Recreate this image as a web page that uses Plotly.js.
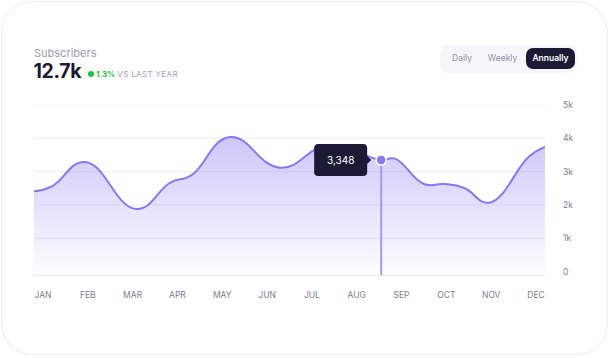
<!DOCTYPE html>
<html>
<head>
<meta charset="utf-8">
<script src="https://cdn.plot.ly/plotly-3.0.1.min.js"></script>
<style>
  html, body { margin:0; padding:0; background:#ffffff; width:611px; height:358px; overflow:hidden; font-family: Inter, "Noto Sans", sans-serif; }
  #card { position:absolute; left:1px; top:1px; width:605px; height:352px; border:1.5px solid #ececf2; border-radius:32px; background:#fff; }
  #chart { position:absolute; left:0; top:0; width:611px; height:358px; }
  .t { position:absolute; line-height:1; white-space:nowrap; }
  #seg { position:absolute; left:440px; top:45px; width:137px; height:28px; border-radius:9px; background:#f5f5fa; }
  #act { position:absolute; left:526px; top:48px; width:49px; height:21px; border-radius:7px; background:#1d1a36; }
</style>
</head>
<body>
<div id="card"></div>
<div id="seg"></div>
<div id="act"></div>
<div id="chart"></div>
<div class="t" style="left:34px; top:47.5px; font-size:11px; color:#9c9bad;">Subscribers</div>
<div class="t" style="left:33.5px; top:61.5px; font-size:19.5px; font-weight:700; color:#1c1a33; letter-spacing:-0.3px;">12.7k</div>
<div style="position:absolute; left:87.5px; top:71.3px; width:6px; height:6px; border-radius:50%; background:#1fc23a;"></div>
<div class="t" style="left:96px; top:70.2px; font-size:8px; font-weight:700; color:#1fc23a;">1.3%</div>
<div class="t" style="left:117.3px; top:70.2px; font-size:8px; color:#a3a2b3; letter-spacing:0.35px;">VS LAST YEAR</div>
<div class="t" style="left:462px; top:54.3px; font-size:8.5px; color:#8f8ea2; transform:translateX(-50%);">Daily</div>
<div class="t" style="left:502.5px; top:54.3px; font-size:8.5px; color:#8f8ea2; transform:translateX(-50%);">Weekly</div>
<div class="t" style="left:550.5px; top:54.3px; font-size:8.5px; font-weight:600; color:#ffffff; transform:translateX(-50%);">Annually</div>
<script>
// ---- data ----
const months = ["JAN","FEB","MAR","APR","MAY","JUN","JUL","AUG","SEP","OCT","NOV","DEC"];
const monthPos = [0,1,2,3,4,5,6,7,8,9,10,11];
// x positions in month units (0 = JAN), values in subscribers
const xPos = [-0.2, 0.2, 0.94, 2.08, 2.85, 3.3, 4.17, 5.29, 6.35, 7.545, 7.85, 8.5, 8.95, 9.4, 9.955, 10.85, 11.2];
const subscribers = [2410, 2560, 3290, 1880, 2680, 2880, 4040, 3120, 3780, 3348, 3390, 2630, 2630, 2510, 2070, 3460, 3740];
const yTicks = [0, 1000, 2000, 3000, 4000, 5000];
const yTickText = ["0", "1k", "2k", "3k", "4k", "5k"];
const highlightX = 7.545;
const highlightY = 3348;
const highlightLabel = "3,348";

const yMin = -100, yMax = 5000;
const lineColor = "#8b77ef";

const traces = [
  {
    x: xPos, y: subscribers, type: "scatter", mode: "lines",
    line: { color: lineColor, width: 2, shape: "spline", smoothing: 1.3, simplify: false },
    fill: "tozeroy",
    fillgradient: { type: "vertical", colorscale: [[0, "rgba(139,119,239,0.02)"], [1, "rgba(139,119,239,0.42)"]] },
    hoverinfo: "skip"
  },
  {
    x: [highlightX, highlightX], y: [yMin, highlightY], type: "scatter", mode: "lines",
    line: { color: "#a898f6", width: 2 }, hoverinfo: "skip"
  },
  {
    x: [highlightX], y: [highlightY], type: "scatter", mode: "markers",
    marker: { color: lineColor, size: 10, line: { color: "#ffffff", width: 1.5 } }, hoverinfo: "skip"
  }
];

const shapes = yTicks.filter(v => v > 0).map(v => ({
  type: "line", xref: "paper", x0: 0, x1: 1, yref: "y", y0: v, y1: v,
  line: { color: "#ecebf3", width: 1 }, layer: "below"
}));

// tooltip box with pointer, sized in pixels around the highlighted point
const L = -67, R = -14, T = 16, B = -16, r = 4;
const tipPath = `M ${L + r} ${T} L ${R - r} ${T} Q ${R} ${T} ${R} ${T - r} L ${R} 4 L -10 0 L ${R} -4 L ${R} ${B + r} Q ${R} ${B} ${R - r} ${B} L ${L + r} ${B} Q ${L} ${B} ${L} ${B + r} L ${L} ${T - r} Q ${L} ${T} ${L + r} ${T} Z`;
shapes.push({
  type: "path", xref: "x", yref: "y", xsizemode: "pixel", ysizemode: "pixel",
  xanchor: highlightX, yanchor: highlightY, path: tipPath,
  fillcolor: "#1d1a36", line: { width: 0 }, layer: "above"
});

const layout = {
  width: 611, height: 358,
  margin: { l: 34, r: 66, t: 105, b: 83 },
  paper_bgcolor: "rgba(0,0,0,0)", plot_bgcolor: "rgba(0,0,0,0)",
  showlegend: false, hovermode: false,
  font: { family: "Inter, 'Noto Sans', sans-serif" },
  xaxis: {
    range: [-0.2, 11.2], tickvals: monthPos, ticktext: months,
    showgrid: false, zeroline: false, showline: true, linecolor: "#e6e6ee", linewidth: 1,
    ticks: "", ticklabelstandoff: 12,
    tickfont: { size: 8.5, color: "#7d7b92" }, fixedrange: true
  },
  yaxis: {
    range: [yMin, yMax], side: "right", tickvals: yTicks, ticktext: yTickText,
    showgrid: false, zeroline: false, showline: false,
    ticks: "", ticklabelstandoff: 17,
    tickfont: { size: 8.5, color: "#7d7b92" }, fixedrange: true
  },
  shapes: shapes,
  annotations: [{
    x: highlightX, y: highlightY, xref: "x", yref: "y", xshift: -40.5,
    text: highlightLabel, showarrow: false,
    font: { color: "#ffffff", size: 10 }
  }]
};

Plotly.newPlot("chart", traces, layout, { displayModeBar: false, staticPlot: true });
</script>
</body>
</html>
